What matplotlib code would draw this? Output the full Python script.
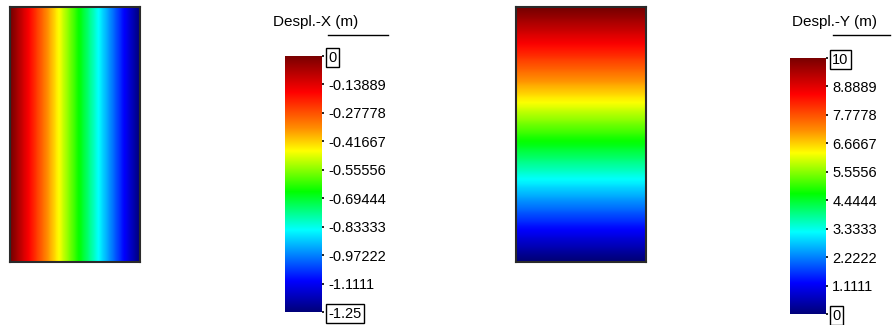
import numpy as np
import matplotlib.pyplot as plt
from matplotlib.lines import Line2D
from matplotlib.colors import LinearSegmentedColormap

plt.rcParams['font.family'] = ['Liberation Sans', 'DejaVu Sans']

# data
ux_range = [0.0, -1.25]      # left edge -> right edge
uy_range = [10.0, 0.0]       # top edge -> bottom edge
x_ticks = [0, -0.13889, -0.27778, -0.41667, -0.55556, -0.69444,
           -0.83333, -0.97222, -1.1111, -1.25]
y_ticks = [10, 8.8889, 7.7778, 6.6667, 5.5556, 4.4444,
           3.3333, 2.2222, 1.1111, 0]
titles = ['Despl.-X (m)', 'Despl.-Y (m)']

# rainbow map as seen in the picture (low -> high)
cmap = LinearSegmentedColormap.from_list('rainbow_fem', [
    (0.00, '#00007a'), (0.12, '#0000ff'), (0.32, '#00ffff'),
    (0.47, '#00ff00'), (0.63, '#ffff00'), (0.72, '#ff8c00'),
    (0.86, '#ff0000'), (1.00, '#7a0000')])

W, H = 896, 325
fig = plt.figure(figsize=(W / 100, H / 100), dpi=100)


def px_axes(x0, y0, x1, y1):
    # pixel box (top-left origin) -> figure axes
    return fig.add_axes([x0 / W, 1 - y1 / H, (x1 - x0) / W, (y1 - y0) / H])


# fields: x varies left->right, y varies top->bottom
n = 60
ux = np.tile(np.linspace(ux_range[0], ux_range[1], n), (n, 1))
uy = np.tile(np.linspace(uy_range[0], uy_range[1], n)[:, None], (1, n))

fields = [ux, uy]
ticks = [x_ticks, y_ticks]
panel_box = [(10, 7, 140, 262), (516, 7, 646, 262)]
bar_box = [(285, 56, 322, 312), (790, 58, 826, 314)]
title_x = [316, 834]
line_x = [(328, 388), (833, 890)]

for f, tk, pb, bb, tx, lx, title in zip(fields, ticks, panel_box, bar_box,
                                         title_x, line_x, titles):
    vmin, vmax = min(tk), max(tk)
    ax = px_axes(*pb)
    im = ax.imshow(f, cmap=cmap, vmin=vmin, vmax=vmax, aspect='auto',
                   interpolation='bilinear')
    ax.set_xticks([])
    ax.set_yticks([])
    for s in ax.spines.values():
        s.set_color('#2a2a2a')
        s.set_linewidth(1.5)

    cax = px_axes(*bb)
    cb = fig.colorbar(im, cax=cax, ticks=tk)
    cb.outline.set_visible(False)
    cb.ax.set_yticklabels(['%.5g' % t for t in tk])
    cb.ax.tick_params(length=1.5, width=1.2, pad=3, labelsize=10.5,
                      colors='black')
    labels = cb.ax.get_yticklabels()
    for lab, t in zip(labels, tk):
        if t in (vmin, vmax):
            lab.set_bbox(dict(boxstyle='square,pad=0.15', fc='white',
                              ec='black', lw=1))

    fig.text(tx / W, 1 - 22 / H, title, ha='center', va='center', fontsize=11)
    fig.add_artist(Line2D([lx[0] / W, lx[1] / W], [1 - 35 / H, 1 - 35 / H],
                          color='black', lw=1))

fig.savefig('out.png', dpi=100)
